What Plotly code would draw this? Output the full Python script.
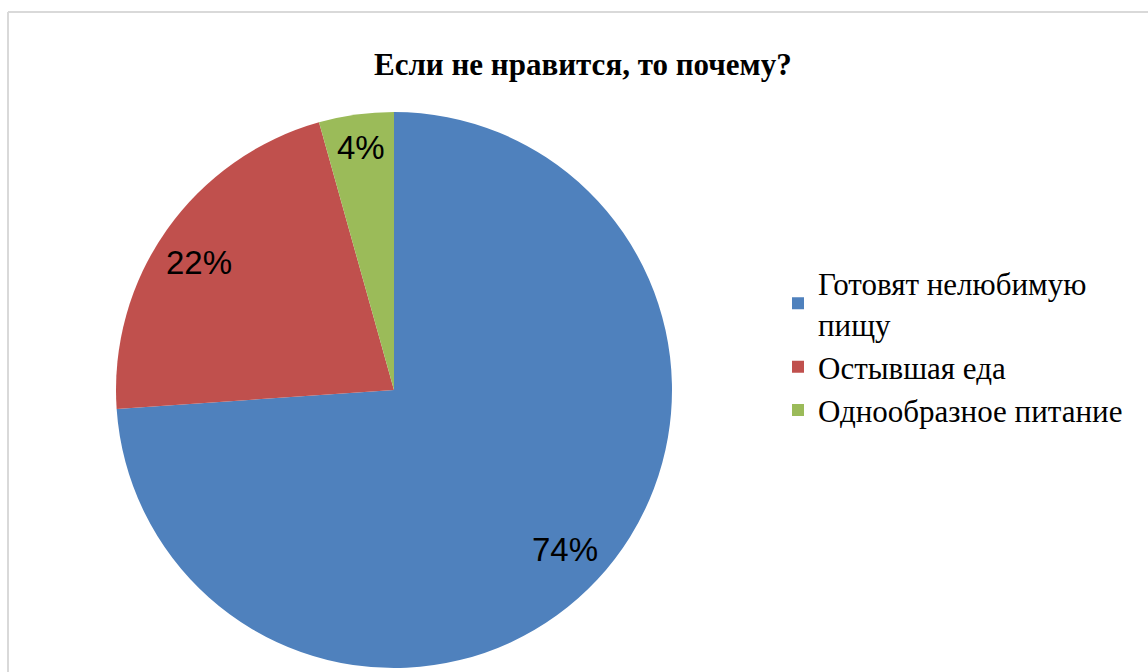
import math
import plotly.graph_objects as go

# Data
categories = ["Готовят нелюбимую<br>пищу", "Остывшая еда", "Однообразное питание"]
values = [17, 5, 1]
colors = ["#4F81BD", "#C0504D", "#9BBB59"]
title_text = "Если не нравится, то почему?"

W, H = 1148, 672
cx, cy, R = 394, 390, 278  # pie centre / radius in pixels (layout)

fig = go.Figure()
fig.add_trace(go.Pie(
    labels=categories,
    values=values,
    marker=dict(colors=colors, line=dict(width=0)),
    sort=False,
    direction="clockwise",
    rotation=0,
    textinfo="none",
    hoverinfo="label+percent",
    domain=dict(x=[(cx - R) / W, (cx + R) / W], y=[(H - (cy + R)) / H, (H - (cy - R)) / H]),
))

# percentage labels placed along each slice's mid-angle
total = sum(values)
cum = 0
label_r = [0.84, 0.84, 0.88]
label_da = [0, -2.0, 0]  # small angular nudge (degrees)
annotations = []
for i, v in enumerate(values):
    mid = (cum + v / 2) / total * 2 * math.pi + math.radians(label_da[i])
    cum += v
    px = cx + label_r[i] * R * math.sin(mid)
    py = cy - label_r[i] * R * math.cos(mid)
    annotations.append(dict(
        x=px / W, y=1 - py / H, xref="paper", yref="paper",
        text=f"{round(v / total * 100)}%", showarrow=False,
        font=dict(family="Liberation Sans, Arial", size=33, color="black"),
        xanchor="center", yanchor="middle",
    ))

annotations.append(dict(
    x=583 / W, y=1 - 64 / H, xref="paper", yref="paper",
    text=f"<b>{title_text}</b>", showarrow=False,
    font=dict(family="Liberation Serif, Times New Roman", size=31, color="black"),
    xanchor="center", yanchor="middle",
))

fig.update_layout(
    width=W, height=H,
    margin=dict(l=0, r=0, t=0, b=0),
    paper_bgcolor="white",
    plot_bgcolor="white",
    showlegend=True,
    legend=dict(
        x=778 / W, y=1 - 347 / H, xanchor="left", yanchor="middle",
        font=dict(family="Liberation Serif, Times New Roman", size=31, color="black"),
        bgcolor="rgba(0,0,0,0)",
        tracegroupgap=0,
    ),
    annotations=annotations,
    shapes=[
        dict(type="line", xref="paper", yref="paper", x0=8 / W, x1=1, y0=1 - 12 / H, y1=1 - 12 / H,
             line=dict(color="#D9D9D9", width=2)),
        dict(type="line", xref="paper", yref="paper", x0=8 / W, x1=8 / W, y0=0, y1=1 - 12 / H,
             line=dict(color="#D9D9D9", width=2)),
    ],
)

fig.write_html("out.html", config={"displayModeBar": False},
               post_script="document.body.style.margin='0';")
